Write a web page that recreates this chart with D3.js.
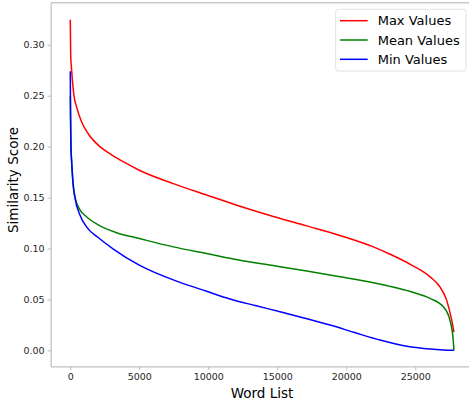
<!DOCTYPE html>
<html>
<head>
<meta charset="utf-8">
<script src="https://cdn.jsdelivr.net/npm/d3@7"></script>
<style>
  html, body { margin: 0; padding: 0; background: #fff; }
  svg { display: block; font-family: "DejaVu Sans", sans-serif; }
</style>
</head>
<body>
<svg id="chart" width="469" height="402"></svg>
<script>
// ---- data ----
const maxX   = [0, 30, 100, 268, 460, 800, 1300, 2150, 3000, 4000, 5000, 7460, 9880, 12300, 14710, 17130, 19540, 21960, 23170, 24700, 26070, 26800, 27270, 27640, 27800];
const maxY   = [0.3245, 0.290, 0.2748, 0.250, 0.2388, 0.225, 0.2127, 0.200, 0.192, 0.184, 0.1768, 0.1637, 0.1525, 0.1415, 0.1315, 0.1222, 0.1128, 0.1016, 0.0944, 0.084, 0.0722, 0.062, 0.0493, 0.0297, 0.018];

const meanX  = [0, 50, 100, 220, 410, 700, 1190, 2000, 3360, 5000, 7460, 9880, 12300, 14710, 17130, 19540, 21960, 23170, 24700, 26070, 27030, 27510, 27750, 27800];
const meanY  = [0.250, 0.200, 0.185, 0.160, 0.147, 0.138, 0.131, 0.1235, 0.1155, 0.1098, 0.1016, 0.0951, 0.0885, 0.0832, 0.0778, 0.0722, 0.0663, 0.0628, 0.0575, 0.051, 0.0428, 0.0297, 0.010, 0.0];

const minX   = [0, 20, 50, 100, 200, 340, 700, 1190, 2000, 3120, 5000, 7950, 9880, 11570, 13400, 15200, 17000, 18820, 20600, 22440, 24600, 26070, 27000, 27800];
const minY   = [0.274, 0.230, 0.200, 0.185, 0.165, 0.150, 0.133, 0.121, 0.111, 0.0995, 0.0836, 0.0667, 0.0580, 0.0505, 0.0440, 0.0379, 0.0315, 0.0248, 0.0175, 0.0101, 0.0035, 0.0013, 0.0004, 0.0];

const seriesNames  = ["Max Values", "Mean Values", "Min Values"];
const seriesColors = ["#ff0000", "#008000", "#0000ff"];
const xTicks = [0, 5000, 10000, 15000, 20000, 25000];
const yTicks = [0.00, 0.05, 0.10, 0.15, 0.20, 0.25, 0.30];
const xLabel = "Word List";
const yLabel = "Similarity Score";

// ---- layout ----
const svg = d3.select("#chart");
const plotL = 51.1, plotR = 473.1, plotT = 2.8, plotB = 366.9;

const x = d3.scaleLinear().domain([-1390, 29190]).range([plotL, plotR]);
const y = d3.scaleLinear().domain([-0.01625, 0.34125]).range([plotB, plotT]);

const series = [
  { name: seriesNames[0], color: seriesColors[0], xs: maxX,  ys: maxY },
  { name: seriesNames[1], color: seriesColors[1], xs: meanX, ys: meanY },
  { name: seriesNames[2], color: seriesColors[2], xs: minX,  ys: minY }
];

// lines
const line = d3.line()
  .x(d => x(d[0]))
  .y(d => y(d[1]))
  .curve(d3.curveMonotoneX);

svg.append("g").selectAll("path")
  .data(series)
  .join("path")
  .attr("d", s => line(s.xs.map((v, i) => [v, s.ys[i]])))
  .attr("fill", "none")
  .attr("stroke", s => s.color)
  .attr("stroke-width", 1.5)
  .attr("stroke-linejoin", "round");

// axes
const tickColor = "#b0b0b0";
const xAxis = d3.axisBottom(x).tickValues(xTicks).tickFormat(d3.format("d")).tickSize(3.5).tickPadding(2.5);
const yAxis = d3.axisLeft(y).tickValues(yTicks).tickFormat(d3.format(".2f")).tickSize(3.5).tickPadding(3);

const gx = svg.append("g").attr("transform", `translate(0,${plotB})`).call(xAxis);
const gy = svg.append("g").attr("transform", `translate(${plotL},0)`).call(yAxis);
[gx, gy].forEach(g => {
  g.select(".domain").remove();
  g.selectAll(".tick line").attr("stroke", tickColor).attr("stroke-width", 0.8);
  g.selectAll(".tick text").attr("fill", "#262626").attr("font-size", 9.5)
    .attr("font-family", "DejaVu Sans, sans-serif");
});

// spines (top, left, bottom; right is beyond the image)
svg.append("path")
  .attr("d", `M${plotR},${plotT}H${plotL}V${plotB}H${plotR}`)
  .attr("fill", "none")
  .attr("stroke", tickColor)
  .attr("stroke-width", 1);

// axis labels
svg.append("text")
  .attr("x", 262).attr("y", 397.5)
  .attr("text-anchor", "middle")
  .attr("font-size", 13.5)
  .attr("fill", "#000")
  .text(xLabel);

svg.append("text")
  .attr("transform", `translate(17.5,180) rotate(-90)`)
  .attr("text-anchor", "middle")
  .attr("font-size", 13.5)
  .attr("fill", "#000")
  .text(yLabel);

// legend
const lg = svg.append("g");
lg.append("rect")
  .attr("x", 335.7).attr("y", 9.3)
  .attr("width", 130.3).attr("height", 61.7)
  .attr("rx", 2.5)
  .attr("fill", "#fff").attr("fill-opacity", 0.8)
  .attr("stroke", "#d9d9d9").attr("stroke-width", 0.8);

const legendRowY = d3.scalePoint().domain(seriesNames).range([20.7, 59.3]);
const items = lg.selectAll("g.item").data(series).join("g").attr("class", "item")
  .attr("transform", s => `translate(0,${legendRowY(s.name)})`);
items.append("line")
  .attr("x1", 340).attr("x2", 367.7)
  .attr("stroke", s => s.color).attr("stroke-width", 1.5);
items.append("text")
  .attr("x", 377.7).attr("dy", "0.35em")
  .attr("font-size", 13)
  .attr("fill", "#000")
  .text(s => s.name);
</script>
</body>
</html>
